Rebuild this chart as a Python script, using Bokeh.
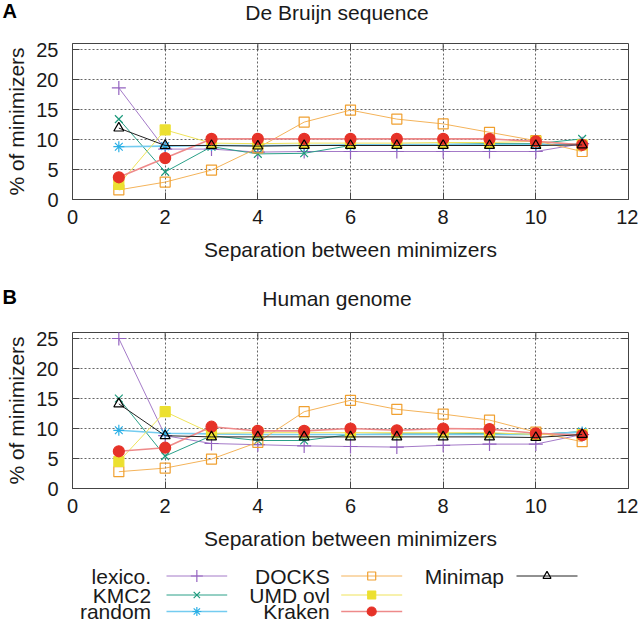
from bokeh.plotting import figure
from bokeh.layouts import column, row
from bokeh.models import Range1d, FixedTicker
from bokeh.embed import file_html
from bokeh.resources import INLINE
from bokeh.core.properties import value

# ---------------- data ----------------
separation = [1, 2, 3, 4, 5, 6, 7, 8, 9, 10, 11]
series_names = ["lexico.", "KMC2", "random", "DOCKS", "UMD ovl", "Kraken", "Minimap"]

# Panel A: De Bruijn sequence (% of minimizers)
db_lexico  = [18.6, 8.4, 8.4, 7.9, 8.0, 8.0, 8.0, 8.0, 8.0, 8.0, 9.3]
db_kmc2    = [13.4, 4.6, 8.8, 7.6, 7.7, 9.0, 9.2, 9.2, 9.3, 9.3, 10.1]
db_random  = [8.8, 8.9, 9.0, 9.0, 9.0, 9.1, 9.1, 9.1, 9.1, 9.1, 9.3]
db_docks   = [1.6, 2.9, 4.9, 8.6, 12.9, 14.9, 13.4, 12.6, 11.2, 9.8, 8.0]
db_umd     = [2.5, 11.6, 9.4, 9.3, 9.4, 9.4, 9.4, 9.5, 9.5, 9.7, 9.1]
db_kraken  = [3.7, 6.9, 10.1, 10.1, 10.1, 10.1, 10.1, 10.1, 10.1, 9.7, 9.1]
db_minimap = [11.9, 9.0, 9.0, 8.9, 9.0, 9.0, 9.0, 9.0, 9.0, 9.0, 9.1]

# Panel B: Human genome (% of minimizers)
hg_lexico  = [25.0, 8.8, 7.5, 7.3, 7.1, 7.0, 6.9, 7.2, 7.4, 7.4, 9.0]
hg_kmc2    = [15.0, 5.4, 8.8, 8.0, 8.0, 9.0, 9.1, 9.1, 9.2, 9.0, 9.5]
hg_random  = [9.7, 9.2, 9.1, 9.0, 9.0, 9.0, 9.0, 9.0, 9.0, 9.0, 9.4]
hg_docks   = [2.8, 3.4, 4.9, 7.7, 12.8, 14.7, 13.2, 12.4, 11.4, 9.4, 7.8]
hg_umd     = [4.5, 12.8, 9.2, 9.3, 9.3, 9.3, 9.3, 9.3, 9.3, 9.0, 9.0]
hg_kraken  = [6.2, 6.8, 10.3, 9.6, 9.6, 10.0, 9.7, 10.0, 9.9, 9.2, 8.9]
hg_minimap = [14.1, 8.8, 8.6, 8.6, 8.6, 8.6, 8.6, 8.6, 8.6, 8.5, 9.0]

x_ticks = [0, 2, 4, 6, 8, 10, 12]
y_ticks = [0, 5, 10, 15, 20, 25]

panel_letters = ["A", "B"]
panel_titles = ["De Bruijn sequence", "Human genome"]
x_label = "Separation between minimizers"
y_label = "% of minimizers"

# ---------------- styles ----------------
FONT = "Liberation Sans"
FS_TICK = "20px"
FS = "21px"
TXT = "#1a1a1a"
W = 638
BL, BR = 72, 10   # frame borders (left/right), shared by all figures
X_MIN, X_MAX, Y_MIN, Y_MAX = 0, 12, 0, 26
FRAME_H = 156
TICK_PX = 7

styles = [
    dict(marker="cross",    size=14, line="#a47ac8", mk="#9463c0", fill=None),
    dict(marker="x",        size=11, line="#2aa088", mk="#1c9a7c", fill=None),
    dict(marker="asterisk", size=11, line="#74ccf0", mk="#2cb0e6", fill=None),
    dict(marker="square",   size=10, line="#f4b35a", mk="#f0a030", fill=None),
    dict(marker="square",   size=10, line="#efe35a", mk="#ece030", fill="#ece030"),
    dict(marker="circle",   size=11, line="#ee8a8a", mk="#e63228", fill="#e63228"),
    dict(marker="triangle", size=10, line="#222222", mk="#000000", fill=None),
]
line_widths = [1, 1, 1.6, 1, 1, 1.6, 1]


def blank(width, height, xr, yr, bl=0, br=0):
    f = figure(width=width, height=height, x_range=Range1d(*xr), y_range=Range1d(*yr),
               output_backend="svg", toolbar_location=None, title=None,
               x_axis_type=None, y_axis_type=None,
               min_border_left=bl, min_border_right=br, min_border_top=0, min_border_bottom=0)
    f.grid.visible = False
    f.outline_line_color = None
    return f


def header(letter, title, height, letter_mid, title_mid):
    hl = blank(BL, height, (0, BL), (height, 0))
    hl.text(x=[2], y=[letter_mid], text=[letter], text_font=value(FONT),
            text_font_size="20px", text_font_style="bold", text_color="#000000",
            text_align="left", text_baseline="middle")
    ht = blank(W - BL, height, (BL, W), (height, 0))
    ht.text(x=[336.5], y=[title_mid], text=[title], text_font=value(FONT),
            text_font_size=FS, text_color=TXT, text_align="center",
            text_baseline="middle")
    return row(hl, ht, spacing=0)


def make_panel(series, height, top, bottom):
    p = figure(width=W, height=height, x_range=Range1d(X_MIN, X_MAX),
               y_range=Range1d(Y_MIN, Y_MAX),
               output_backend="svg", toolbar_location=None, title=None,
               min_border_left=BL, min_border_right=BR, min_border_top=top,
               min_border_bottom=bottom)
    p.outline_line_color = "#444444"
    p.outline_line_width = 1

    for ax in (p.xaxis[0], p.yaxis[0]):
        ax.major_tick_in = TICK_PX
        ax.major_tick_out = 0
        ax.minor_tick_line_color = None
        ax.axis_line_color = "#444444"
        ax.major_tick_line_color = "#444444"
        ax.major_label_text_font = FONT
        ax.major_label_text_font_size = FS_TICK
        ax.major_label_text_color = TXT
        ax.axis_label_text_font = FONT
        ax.axis_label_text_font_size = FS
        ax.axis_label_text_font_style = "normal"
        ax.axis_label_text_color = TXT
    p.xaxis[0].ticker = FixedTicker(ticks=x_ticks)
    p.yaxis[0].ticker = FixedTicker(ticks=y_ticks)
    p.xaxis[0].axis_label = x_label
    p.yaxis[0].axis_label = y_label
    p.xaxis[0].major_label_standoff = 10
    p.xaxis[0].axis_label_standoff = 11
    p.yaxis[0].major_label_standoff = 14
    p.yaxis[0].axis_label_standoff = 5

    p.xgrid.ticker = FixedTicker(ticks=x_ticks[1:-1])
    p.ygrid.ticker = FixedTicker(ticks=y_ticks[1:])
    for g in (p.xgrid[0], p.ygrid[0]):
        g.grid_line_color = "#555555"
        g.grid_line_dash = "2 2"
        g.grid_line_width = 1
        g.grid_line_alpha = 0.9

    # mirrored inward tick marks on the top and right edges of the frame
    frame_w = W - BL - BR
    dy = TICK_PX * (Y_MAX - Y_MIN) / FRAME_H
    dx = TICK_PX * (X_MAX - X_MIN) / frame_w
    inner_x = x_ticks[1:-1]
    inner_y = y_ticks[1:]
    p.segment(x0=inner_x, y0=[Y_MAX] * len(inner_x), x1=inner_x,
              y1=[Y_MAX - dy] * len(inner_x), line_color="#444444", line_width=1)
    p.segment(x0=[X_MAX] * len(inner_y), y0=inner_y, x1=[X_MAX - dx] * len(inner_y),
              y1=inner_y, line_color="#444444", line_width=1)

    for ys, st, lw in zip(series, styles, line_widths):
        p.line(separation, ys, line_color=st["line"], line_width=lw)
        p.scatter(separation, ys, marker=st["marker"], size=st["size"],
                  line_color=st["mk"], line_width=1.2,
                  fill_color=st["fill"], fill_alpha=1 if st["fill"] else 0)
    return p


ha = header(panel_letters[0], panel_titles[0], 28, 10.5, 11.5)
pa = make_panel([db_lexico, db_kmc2, db_random, db_docks, db_umd, db_kraken, db_minimap],
                height=252, top=15, bottom=81)
hb = header(panel_letters[1], panel_titles[1], 36, 16, 17.5)
pb = make_panel([hg_lexico, hg_kmc2, hg_random, hg_docks, hg_umd, hg_kraken, hg_minimap],
                height=244, top=16, bottom=72)

# ---------------- legend (label left, sample right, 3 columns) ----------------
LH = 63
pl = blank(W, LH, (BL, W - BR), (LH, 0), bl=BL, br=BR)

col_text_right = [150.6, 329.3, 503.5]
col_line_start = [166.0, 340.7, 516.0]
col_line_end = [226.7, 401.7, 577.0]
row_y = [15.5, 34.5, 51.0]

for i, (name, st, lw) in enumerate(zip(series_names, styles, line_widths)):
    c, r = i // 3, i % 3
    y = row_y[r]
    pl.text(x=[col_text_right[c]], y=[y], text=[name], text_font=value(FONT),
            text_font_size=FS, text_color=TXT, text_align="right", text_baseline="middle")
    pl.segment(x0=[col_line_start[c]], y0=[y], x1=[col_line_end[c]], y1=[y],
               line_color=st["line"], line_width=lw)
    xm = (col_line_start[c] + col_line_end[c]) / 2
    pl.scatter(x=[xm], y=[y], marker=st["marker"], size=st["size"] - 2,
               line_color=st["mk"], line_width=1.2,
               fill_color=st["fill"], fill_alpha=1 if st["fill"] else 0)

layout = column(ha, pa, hb, pb, pl, spacing=0)
open("out.html", "w").write(file_html(layout, INLINE))
